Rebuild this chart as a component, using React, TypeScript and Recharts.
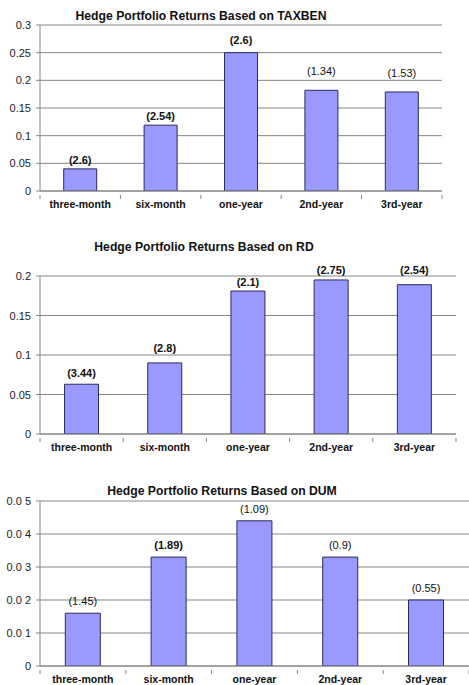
import { BarChart, Bar, XAxis, YAxis, CartesianGrid, LabelList } from "recharts";

const categories = ["three-month", "six-month", "one-year", "2nd-year", "3rd-year"];

const taxbenValues = [0.04, 0.119, 0.25, 0.182, 0.179];
const taxbenTStats = ["(2.6)", "(2.54)", "(2.6)", "(1.34)", "(1.53)"];
const taxbenBold = [true, true, true, false, false];
const taxbenTicks = [0, 0.05, 0.1, 0.15, 0.2, 0.25, 0.3];
const taxbenTickLabels = ["0", "0.05", "0.1", "0.15", "0.2", "0.25", "0.3"];

const rdValues = [0.063, 0.09, 0.181, 0.195, 0.189];
const rdTStats = ["(3.44)", "(2.8)", "(2.1)", "(2.75)", "(2.54)"];
const rdBold = [true, true, true, true, true];
const rdTicks = [0, 0.05, 0.1, 0.15, 0.2];
const rdTickLabels = ["0", "0.05", "0.1", "0.15", "0.2"];

const dumValues = [0.016, 0.033, 0.044, 0.033, 0.02];
const dumTStats = ["(1.45)", "(1.89)", "(1.09)", "(0.9)", "(0.55)"];
const dumBold = [false, true, false, false, false];
const dumTicks = [0, 0.01, 0.02, 0.03, 0.04, 0.05];
const dumTickLabels = ["0", "0.0 1", "0.0 2", "0.0 3", "0.0 4", "0.0 5"];

const FONT = "'Liberation Sans', Arial, sans-serif";
const GRID = "#858585";
const BAR_FILL = "#9999ff";
const BAR_STROKE = "#2b2b5e";

type PanelProps = {
  title: string;
  titleX: number;
  titleY: number;
  top: number;
  height: number;
  margin: { top: number; right: number; bottom: number; left: number };
  xAxisHeight: number;
  values: number[];
  tstats: string[];
  bold: boolean[];
  ticks: number[];
  tickLabels: string[];
  labelGaps: number[];
};

const Panel = (p: PanelProps) => {
  const data = categories.map((c, i) => ({
    name: c,
    value: p.values[i],
    t: p.tstats[i],
    bold: p.bold[i],
    gap: p.labelGaps[i],
  }));
  const plotWidth = 469 - p.margin.left - p.margin.right - 40;
  const step = plotWidth / categories.length;

  const CatTick = (props: any) => {
    const { x, y, payload, index } = props;
    const left = x - step / 2;
    return (
      <g>
        <line x1={left} x2={left} y1={y - 4} y2={y} stroke={GRID} />
        {index === categories.length - 1 && (
          <line x1={x + step / 2} x2={x + step / 2} y1={y - 4} y2={y} stroke={GRID} />
        )}
        <text
          x={x}
          y={y + 9}
          textAnchor="middle"
          fontSize={10.5}
          fontWeight="bold"
          fill="#111"
          fontFamily={FONT}
        >
          {payload.value}
        </text>
      </g>
    );
  };

  const ValTick = (props: any) => {
    const { x, y, payload } = props;
    const label = p.tickLabels[p.ticks.indexOf(payload.value)] ?? String(payload.value);
    return (
      <text
        x={x}
        y={y + 4}
        textAnchor="end"
        fontSize={11}
        fill="#222"
        fontFamily={FONT}
        style={{ whiteSpace: "pre" }}
      >
        {label}
      </text>
    );
  };

  const TLabel = (props: any) => {
    const { x, y, width, index } = props;
    const d = data[index];
    return (
      <text
        x={x + width / 2}
        y={y - d.gap}
        textAnchor="middle"
        fontSize={11}
        fontWeight={d.bold ? "bold" : "normal"}
        fill="#111"
        fontFamily={FONT}
      >
        {d.t}
      </text>
    );
  };

  return (
    <div style={{ position: "absolute", left: 0, top: p.top, width: 469, height: p.height }}>
      <div
        style={{
          position: "absolute",
          left: p.titleX,
          top: p.titleY,
          transform: "translate(-50%, -50%)",
          whiteSpace: "nowrap",
          fontFamily: FONT,
          fontWeight: "bold",
          fontSize: 12.2,
          color: "#111",
        }}
      >
        {p.title}
      </div>
      <BarChart width={469} height={p.height} data={data} margin={p.margin} barCategoryGap="29.5%">
        <CartesianGrid vertical={false} stroke={GRID} strokeWidth={1} />
        <XAxis
          dataKey="name"
          height={p.xAxisHeight}
          axisLine={{ stroke: GRID }}
          tickLine={false}
          tick={<CatTick />}
          interval={0}
        />
        <YAxis
          width={40}
          domain={[p.ticks[0], p.ticks[p.ticks.length - 1]]}
          ticks={p.ticks}
          axisLine={{ stroke: GRID }}
          tickLine={{ stroke: GRID }}
          tickSize={4}
          tickMargin={5}
          tick={<ValTick />}
          interval={0}
          allowDataOverflow
        />
        <Bar dataKey="value" fill={BAR_FILL} stroke={BAR_STROKE} strokeWidth={1} isAnimationActive={false}>
          <LabelList dataKey="t" content={<TLabel />} />
        </Bar>
      </BarChart>
    </div>
  );
};

export default function App() {
  return (
    <div style={{ position: "absolute", left: 0, top: 0, width: 469, height: 685, background: "#fff", overflow: "hidden" }}>
      <Panel
        title="Hedge Portfolio Returns Based on TAXBEN"
        titleX={201}
        titleY={16}
        top={0}
        height={215}
        margin={{ top: 25, right: 27, bottom: 0, left: 0 }}
        xAxisHeight={24}
        values={taxbenValues}
        tstats={taxbenTStats}
        bold={taxbenBold}
        ticks={taxbenTicks}
        tickLabels={taxbenTickLabels}
        labelGaps={[5, 5, 9, 15, 15]}
      />
      <Panel
        title="Hedge Portfolio Returns Based on RD"
        titleX={204}
        titleY={27}
        top={220}
        height={240}
        margin={{ top: 56, right: 13, bottom: 0, left: 0 }}
        xAxisHeight={26}
        values={rdValues}
        tstats={rdTStats}
        bold={rdBold}
        ticks={rdTicks}
        tickLabels={rdTickLabels}
        labelGaps={[7, 11, 5, 6, 11]}
      />
      <Panel
        title="Hedge Portfolio Returns Based on DUM"
        titleX={222}
        titleY={31}
        top={460}
        height={225}
        margin={{ top: 41, right: 0, bottom: 0, left: 0 }}
        xAxisHeight={19}
        values={dumValues}
        tstats={dumTStats}
        bold={dumBold}
        ticks={dumTicks}
        tickLabels={dumTickLabels}
        labelGaps={[8, 8, 8, 8, 8]}
      />
    </div>
  );
}
